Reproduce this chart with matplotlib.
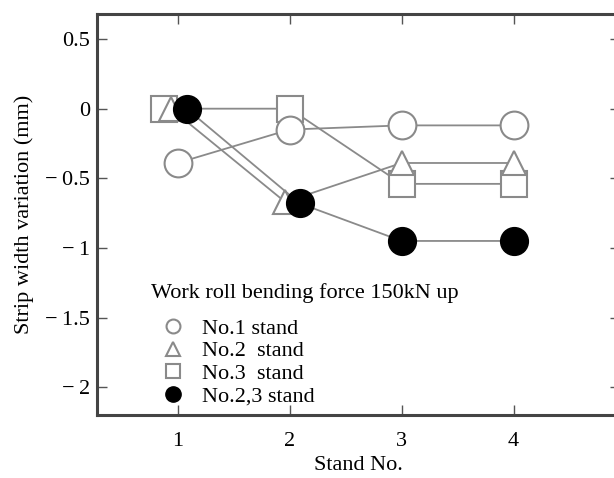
import matplotlib
matplotlib.use("Agg")
import matplotlib.pyplot as plt
from matplotlib.lines import Line2D

plt.rcParams['font.family'] = ['Liberation Serif', 'DejaVu Serif']

# Data (x positions slightly offset in the original figure)
x_no1 = [1.0, 2.0, 3.0, 4.0]
y_no1 = [-0.39, -0.15, -0.12, -0.12]

x_no2 = [0.94, 1.96, 3.0, 4.0]
y_no2 = [0.0, -0.67, -0.39, -0.39]

x_no3 = [0.88, 2.0, 3.0, 4.0]
y_no3 = [0.0, 0.0, -0.54, -0.54]

x_no23 = [1.08, 2.09, 3.0, 4.0]
y_no23 = [0.0, -0.68, -0.95, -0.95]

x_ticks = [1, 2, 3, 4]
y_ticks = [0.5, 0, -0.5, -1, -1.5, -2]
y_ticklabels = ['0.5', '0', '\u2212\u20090.5', '\u2212\u20091', '\u2212\u20091.5', '\u2212\u20092']

legend_title = 'Work roll bending force 150kN up'
labels = ['No.1 stand', 'No.2  stand', 'No.3  stand', 'No.2,3 stand']

fig = plt.figure(figsize=(6.14, 4.78), dpi=100)
W, H = 614, 478
ax = fig.add_axes([97 / W, 1 - 415 / H, (614 - 97 + 6) / W, (415 - 14) / H])

gray = '#8a8a8a'
lw = 1.3
ms_c = 20
ax.plot(x_no3, y_no3, color=gray, lw=lw, marker='s', ms=19, mfc='white', mec=gray, mew=1.5, zorder=2)
ax.plot(x_no2, y_no2, color=gray, lw=lw, marker='^', ms=17, mfc='white', mec=gray, mew=1.5, zorder=3)
ax.plot(x_no1, y_no1, color=gray, lw=lw, marker='o', ms=ms_c, mfc='white', mec=gray, mew=1.5, zorder=4)
ax.plot(x_no23, y_no23, color=gray, lw=lw, marker='o', ms=ms_c, mfc='black', mec='black', mew=1.0, zorder=5)

ax.set_xlim(0.28, 4.95)
ax.set_ylim(-2.2, 0.68)
ax.set_xticks(x_ticks)
ax.set_yticks(y_ticks)
ax.set_yticklabels(y_ticklabels)
ax.tick_params(direction='in', length=7, width=1.0, color='#555555', top=True, right=True,
               labelsize=16)
ax.tick_params(axis='x', pad=12)
ax.tick_params(axis='y', pad=5)
for s in ax.spines.values():
    s.set_linewidth(2.2)
    s.set_color('#444444')

ax.set_xlabel('Stand No.', fontsize=16, labelpad=4)
ax.set_ylabel('Strip width variation (mm)', fontsize=16, labelpad=8)

handles = [
    Line2D([], [], ls='none', marker='o', ms=10, mfc='white', mec=gray, mew=1.5),
    Line2D([], [], ls='none', marker='^', ms=10, mfc='white', mec=gray, mew=1.5),
    Line2D([], [], ls='none', marker='s', ms=10, mfc='white', mec=gray, mew=1.5),
    Line2D([], [], ls='none', marker='o', ms=11, mfc='black', mec='black'),
]
leg = ax.legend(handles, labels, loc='upper left',
                bbox_to_anchor=(162 / W, 1 - 318 / H), bbox_transform=fig.transFigure,
                frameon=False, fontsize=16, handlelength=1.0, handletextpad=0.82,
                labelspacing=0.1, borderpad=0.0, borderaxespad=0.0)
fig.text(151 / W, 1 - 293 / H, legend_title, fontsize=16, ha='left', va='center')

fig.savefig('out.png', dpi=100)
